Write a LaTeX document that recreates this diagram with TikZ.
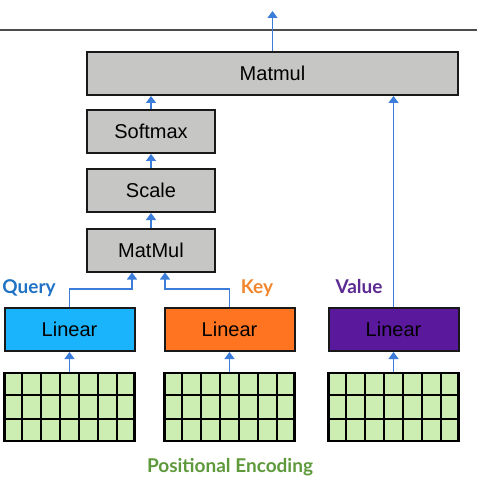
\documentclass[tikz,border=0pt]{standalone}
\usepackage{fontspec}
\setmainfont{Liberation Sans}
\newfontfamily\labfont{Lato}
\usetikzlibrary{arrows.meta,calc}
\definecolor{boxgray}{HTML}{C6C7C5}
\definecolor{qblue}{HTML}{19B4FC}
\definecolor{korange}{HTML}{FF7421}
\definecolor{vpurple}{HTML}{5A189C}
\definecolor{cellgreen}{HTML}{CDEEB2}
\definecolor{arrblue}{HTML}{3B7DD8}
\definecolor{qtext}{HTML}{1F72C4}
\definecolor{ktext}{HTML}{F2862E}
\definecolor{vtext}{HTML}{5B2A92}
\definecolor{ptext}{HTML}{5E9A3C}
\begin{document}
\begin{tikzpicture}[x=1pt,y=-1pt,
  box/.style={draw=black!90,line width=2pt,fill=boxgray,minimum height=43pt,inner sep=0pt,
    font=\fontsize{20}{22}\selectfont},
  linbox/.style={box,minimum width=130pt},
  gridbox/.style={draw=black,line width=2.3pt,fill=cellgreen,minimum width=130pt,minimum height=68pt,inner sep=0pt},
  gridline/.style={black,line width=2.3pt},
  arr/.style={draw=arrblue,line width=1.3pt,-{Triangle[width=10pt,length=7pt]}},
  lab/.style={font=\labfont\bfseries\fontsize{19}{22}\selectfont,inner sep=0pt}
]
\useasboundingbox (0,0) rectangle (477,478);
\fill[white] (0,0) rectangle (477,478);
% top rule
\draw[line width=2pt,black!70] (0,30) -- (477,30);
% gray boxes
\node[box,minimum width=371pt] (mm) at (272.5,73.5) {Matmul};
\node[box,minimum width=128pt] (sm) at (151,131.5) {Softmax};
\node[box,minimum width=128pt] (sc) at (151,190.5) {Scale};
\node[box,minimum width=128pt] (mm2) at (151,250) {MatMul};
% linear boxes
\node[linbox,fill=qblue] (ql) at (69.5,329.5) {Linear};
\node[linbox,fill=korange] (kl) at (229.5,329.5) {Linear};
\node[linbox,fill=vpurple] (vl) at (393.5,329.5) {Linear};
% grids
\foreach \g/\cx in {qg/69.5,kg/229.5,vg/393.5}{
  \node[gridbox] (\g) at (\cx,407) {};
  \foreach \i in {1,...,6}
    \draw[gridline] ($(\g.south west)!\i/7!(\g.south east)$) -- ($(\g.north west)!\i/7!(\g.north east)$);
  \foreach \j in {1,2}
    \draw[gridline] ($(\g.north west)!\j/3!(\g.south west)$) -- ($(\g.north east)!\j/3!(\g.south east)$);
}
% labels
\node[lab,text=qtext] (qlab) at (29,288) {Query};
\node[lab,text=ktext] (klab) at (257,288) {Key};
\node[lab,text=vtext] (vlab) at (359,287) {Value};
\node[lab,text=ptext] (plab) at (230,467) {Positional Encoding};
% coordinates
\coordinate (top) at (272.5,11);
\coordinate (bend) at (0,289);
% arrows
\draw[arr] (mm.north) -- (top);
\draw[arr] (sm.north) -- (sm.north |- mm.south);
\draw[arr] (sc.north) -- (sm.south);
\draw[arr] (mm2.north) -- (sc.south);
\draw[arr] (ql.north) -- (ql.north |- bend) -| ([xshift=-19pt]mm2.south);
\draw[arr] (kl.north) -- (kl.north |- bend) -| ([xshift=14pt]mm2.south);
\draw[arr] (vl.north) -- (vl.north |- mm.south);
\draw[arr] (qg.north) -- (ql.south);
\draw[arr] (kg.north) -- (kl.south);
\draw[arr] (vg.north) -- (vl.south);
\end{tikzpicture}
\end{document}
